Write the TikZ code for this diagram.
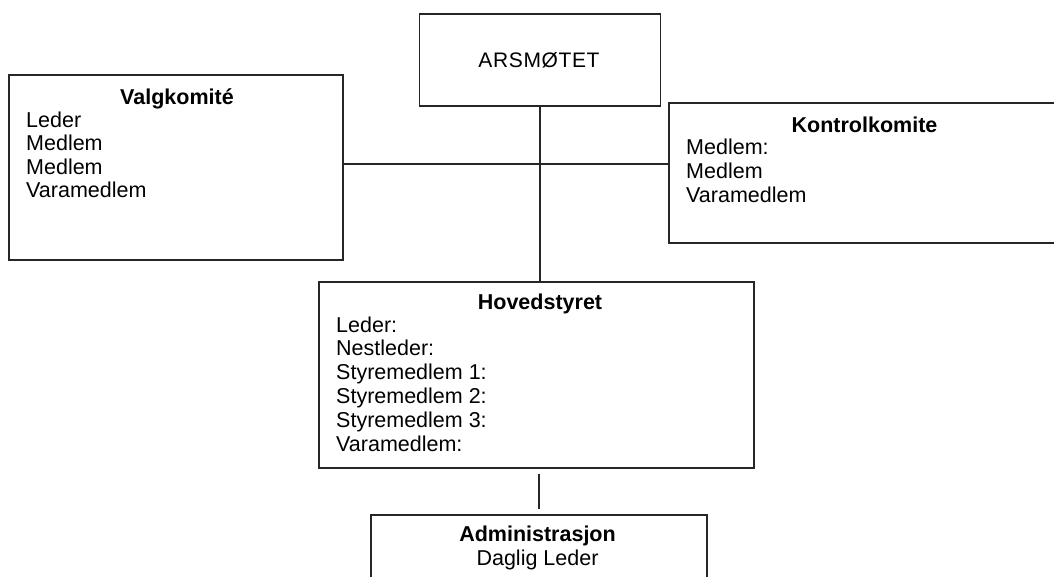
\documentclass[tikz,border=0pt]{standalone}
\usepackage{fontspec}
\setmainfont{Liberation Sans}

\begin{document}
\begin{tikzpicture}[x=1pt, y=-1pt,
    boks/.style={draw=black!85, line width=1.2pt, inner sep=0pt},
    tittel/.style={font=\bfseries\fontsize{21.5}{24}\selectfont, anchor=base, inner sep=0pt},
    linje/.style={font=\fontsize{21.5}{24}\selectfont, anchor=base west, inner sep=0pt}]
    \useasboundingbox (0,0) rectangle (1054,576);

    % boksene
    \node[boks, minimum width=241pt, minimum height=92pt] (arsmote) at (540,60) {};
    \node[boks, minimum width=334pt, minimum height=185pt] (valg) at (176,167.5) {};
    \node[boks, minimum width=391pt, minimum height=140pt] (kontroll) at (864.5,173) {};
    \node[boks, minimum width=435pt, minimum height=186pt] (hoved) at (536.5,375) {};
    \node[boks, minimum width=336pt, minimum height=95pt] (admin) at (539,562.5) {};

    % linjene
    \coordinate (kryss) at (541,164);
    \draw[black!85, line width=1.2pt] (arsmote.south) -- (arsmote.south |- hoved.north);
    \draw[black!85, line width=1.2pt] (valg.east |- kryss) -- (kontroll.west |- kryss);
    \draw[black!85, line width=1.2pt] ([yshift=-5pt]admin.north |- hoved.south) -- ([yshift=5pt]admin.north);

    % tekst
    \node[font=\fontsize{21}{24}\selectfont\addfontfeatures{LetterSpace=3}, anchor=base, inner sep=0pt] (arstekst) at (539,67) {ARSMØTET};

    \node[tittel] (valgtittel) at (177,104) {Valgkomité};
    \foreach \t [count=\i] in {Leder, Medlem, Medlem, Varamedlem}
        \node[linje] (valg\i) at (26,{127+23.5*(\i-1)}) {\t};

    \node[tittel] (kontrolltittel) at (864.5,132) {Kontrolkomite};
    \foreach \t [count=\i] in {Medlem:, Medlem, Varamedlem}
        \node[linje] (kontroll\i) at (686,{154+24*(\i-1)}) {\t};

    \node[tittel] (hovedtittel) at (540,309) {Hovedstyret};
    \foreach \t [count=\i] in {Leder:, Nestleder:, Styremedlem 1:, Styremedlem 2:, Styremedlem 3:, Varamedlem:}
        \node[linje] (hoved\i) at (336,{332+23.8*(\i-1)}) {\t};

    \node[tittel] (admintittel) at (537.5,541) {Administrasjon};
    \node[linje, anchor=base] (admin1) at (537.5,565) {Daglig Leder};
\end{tikzpicture}
\end{document}
